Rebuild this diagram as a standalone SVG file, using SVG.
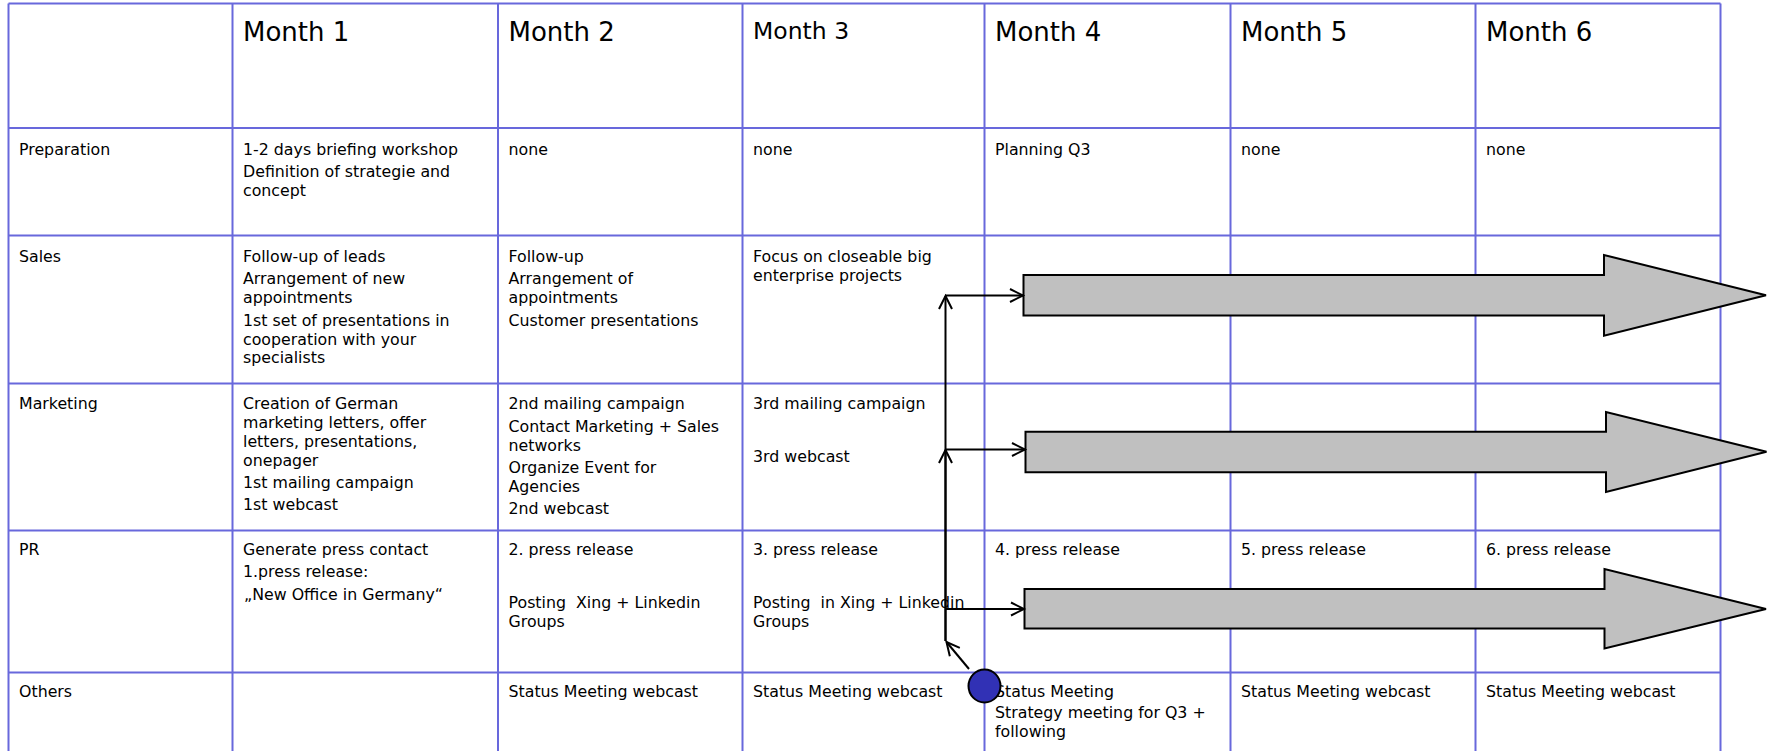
<svg xmlns="http://www.w3.org/2000/svg" width="1768" height="751" viewBox="0 0 1768 751">
<style>
.grid{stroke:#6868dc;stroke-width:2;fill:none}
.t{font-family:"DejaVu Sans","Verdana",sans-serif;font-size:15.8px;fill:#000}
.h{font-family:"DejaVu Sans","Verdana",sans-serif;font-size:26px;fill:#000}
.blk{fill:#c0c0c0;stroke:#000;stroke-width:2;stroke-linejoin:miter}
.con{stroke:#000;stroke-width:2;fill:none}
</style>
<defs>
<marker id="ah" markerUnits="userSpaceOnUse" markerWidth="16" markerHeight="16" refX="13" refY="7" orient="auto" overflow="visible">
<path d="M0,0.5 L13,7 L0,13.5" fill="none" stroke="#000" stroke-width="2"/>
</marker>
</defs>
<rect width="1768" height="751" fill="#fff"/>
<g id="grid" class="grid">
<path d="M8.5,3.5 H1720.5 M8.5,128 H1720.5 M8.5,235.5 H1720.5 M8.5,383.5 H1720.5 M8.5,530.5 H1720.5 M8.5,672.5 H1720.5"/>
<path d="M8.5,3.5 V751 M232.5,3.5 V751 M498,3.5 V751 M742.5,3.5 V751 M984.5,3.5 V751 M1230.5,3.5 V751 M1475.5,3.5 V751 M1720.5,3.5 V751"/>
</g>
<g id="header">
<text class="h" x="243" y="40.5">Month 1</text>
<text class="h" x="508.5" y="40.5">Month 2</text>
<text class="h" x="753" y="38.5" style="font-size:23.5px">Month 3</text>
<text class="h" x="995" y="40.5">Month 4</text>
<text class="h" x="1241" y="40.5">Month 5</text>
<text class="h" x="1486" y="40.5">Month 6</text>
</g>
<g id="row-preparation" class="t">
<text class="t" x="19" y="154.5">Preparation</text>
<text class="t" x="243" y="154.5">1-2 days briefing workshop</text>
<text class="t" x="243" y="176.7">Definition of strategie and</text>
<text class="t" x="243" y="195.5">concept</text>
<text class="t" x="508.5" y="154.5">none</text>
<text class="t" x="753" y="154.5">none</text>
<text class="t" x="995" y="154.5">Planning Q3</text>
<text class="t" x="1241" y="154.5">none</text>
<text class="t" x="1486" y="154.5">none</text>
</g>
<g id="row-sales">
<text class="t" x="19" y="261.7">Sales</text>
<text class="t" x="243" y="261.7">Follow-up of leads</text>
<text class="t" x="243" y="284">Arrangement of new</text>
<text class="t" x="243" y="302.7">appointments</text>
<text class="t" x="243" y="326">1st set of presentations in</text>
<text class="t" x="243" y="344.7">cooperation with your</text>
<text class="t" x="243" y="363.3">specialists</text>
<text class="t" x="508.5" y="261.7">Follow-up</text>
<text class="t" x="508.5" y="284">Arrangement of</text>
<text class="t" x="508.5" y="302.7">appointments</text>
<text class="t" x="508.5" y="326">Customer presentations</text>
<text class="t" x="753" y="261.7">Focus on closeable big</text>
<text class="t" x="753" y="280.5">enterprise projects</text>
</g>
<g id="row-marketing">
<text class="t" x="19" y="409">Marketing</text>
<text class="t" x="243" y="409">Creation of German</text>
<text class="t" x="243" y="428">marketing letters, offer</text>
<text class="t" x="243" y="447">letters, presentations,</text>
<text class="t" x="243" y="465.5">onepager</text>
<text class="t" x="243" y="488">1st mailing campaign</text>
<text class="t" x="243" y="510">1st webcast</text>
<text class="t" x="508.5" y="409">2nd mailing campaign</text>
<text class="t" x="508.5" y="431.5">Contact Marketing + Sales</text>
<text class="t" x="508.5" y="450.5">networks</text>
<text class="t" x="508.5" y="472.5">Organize Event for</text>
<text class="t" x="508.5" y="491.5">Agencies</text>
<text class="t" x="508.5" y="513.5">2nd webcast</text>
<text class="t" x="753" y="409">3rd mailing campaign</text>
<text class="t" x="753" y="461.5">3rd webcast</text>
</g>
<g id="row-pr">
<text class="t" x="19" y="555">PR</text>
<text class="t" x="243" y="555">Generate press contact</text>
<text class="t" x="243" y="576.7">1.press release:</text>
<text class="t" x="244" y="600">„New Office in Germany“</text>
<text class="t" x="508.5" y="555">2. press release</text>
<text class="t" x="508.5" y="608.3">Posting&#160; Xing + Linkedin</text>
<text class="t" x="508.5" y="626.7">Groups</text>
<text class="t" x="753" y="555">3. press release</text>
<text class="t" x="753" y="608.3">Posting&#160; in Xing + Linkedin</text>
<text class="t" x="753" y="626.7">Groups</text>
<text class="t" x="995" y="555">4. press release</text>
<text class="t" x="1241" y="555">5. press release</text>
<text class="t" x="1486" y="555">6. press release</text>
</g>
<g id="row-others">
<text class="t" x="19" y="696.7">Others</text>
<text class="t" x="508.5" y="696.7">Status Meeting webcast</text>
<text class="t" x="753" y="696.7">Status Meeting webcast</text>
<text class="t" x="995" y="696.7">Status Meeting</text>
<text class="t" x="995" y="718.3">Strategy meeting for Q3 +</text>
<text class="t" x="995" y="736.7">following</text>
<text class="t" x="1241" y="696.7">Status Meeting webcast</text>
<text class="t" x="1486" y="696.7">Status Meeting webcast</text>
</g>
<g id="arrow-sales">
<path class="blk" d="M1023.5,275 H1604 V255 L1766,295.3 L1604,335.7 V315.5 H1023.5 Z"/>
</g>
<g id="arrow-marketing">
<path class="blk" d="M1025.5,431.7 H1606 V412 L1766.5,451.7 L1606,492 V472.3 H1025.5 Z"/>
</g>
<g id="arrow-pr">
<path class="blk" d="M1024.5,589 H1604.5 V569 L1766,609 L1604.5,648.5 V628.5 H1024.5 Z"/>
</g>
<g id="connectors">
<path class="con" d="M969,669 L946.5,642" marker-end="url(#ah)"/>
<path class="con" d="M945.5,641 V296" marker-end="url(#ah)"/>
<path class="con" d="M945.5,641 V450" marker-end="url(#ah)"/>
<path class="con" d="M945.5,295.5 H1023" marker-end="url(#ah)"/>
<path class="con" d="M945.5,449.5 H1025" marker-end="url(#ah)"/>
<path class="con" d="M945.5,609 H1024" marker-end="url(#ah)"/>
</g>
<g id="milestone">
<ellipse cx="984.5" cy="686" rx="16" ry="16.5" fill="#3131b5" stroke="#000" stroke-width="2"/>
</g>
</svg>
